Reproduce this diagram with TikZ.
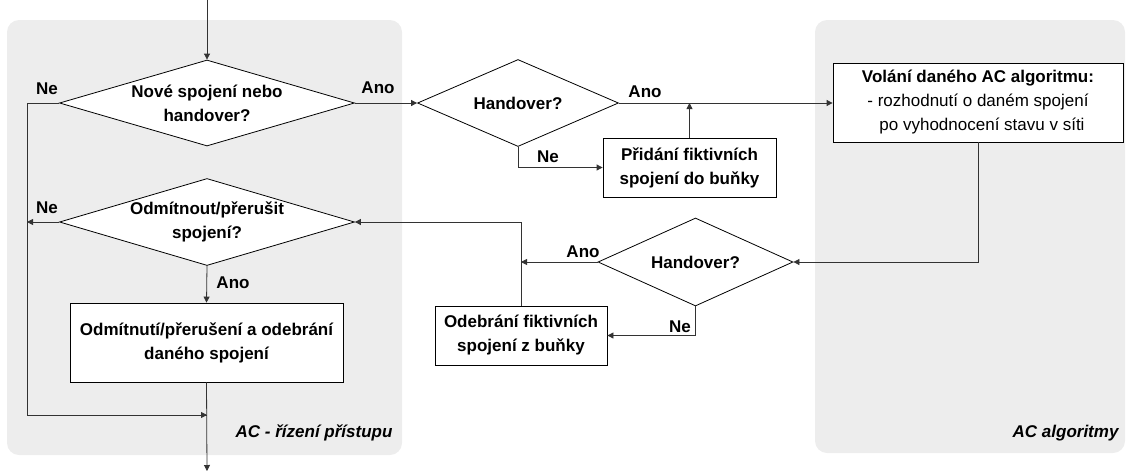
\documentclass[tikz,border=0pt]{standalone}
\usepackage{fontspec}
\setmainfont{Liberation Sans}
\usetikzlibrary{shapes.geometric, arrows.meta, positioning, calc}

\begin{document}
\begin{tikzpicture}[x=1pt, y=-1pt, font=\fontsize{17}{24}\selectfont\bfseries]

  \tikzset{
    panel/.style={rounded corners=12pt, fill=gray!14, draw=none},
    decision/.style={diamond, draw=black, line width=0.8pt, fill=white,
      inner sep=0pt, aspect=#1, align=center},
    stepbox/.style={rectangle, draw=black, line width=0.8pt, fill=white,
      inner sep=0pt, align=center},
    flow/.style={-{Triangle[length=6pt, width=6pt]}, line width=0.8pt, black!80},
    link/.style={line width=0.8pt, black!80},
    panellabel/.style={anchor=east, font=\fontsize{17}{24}\selectfont\bfseries\itshape}
  }

  \useasboundingbox (0,0) rectangle (1130,472);

  % grey background panels
  \fill[panel] (7,20) rectangle (402,455);
  \fill[panel] (815,20) rectangle (1125,453);
  \node[panellabel] (lblacc) at (396,433) {AC - řízení přístupu};
  \node[panellabel] (lblalg) at (1122,433) {AC algoritmy};

  % nodes
  \node[decision=3.43, minimum width=295pt, minimum height=86pt] (newconn) at (207,103)
    {Nové spojení nebo\\handover?};
  \node[decision=2.28, minimum width=201pt, minimum height=87pt] (hoadd) at (518,103)
    {Handover?};
  \node[stepbox, minimum width=173pt, minimum height=59pt] (addfict) at (689.5,167.5)
    {Přidání fiktivních\\spojení do buňky};
  \node[stepbox, minimum width=290pt, minimum height=79pt] (callalg) at (978,102.5)
    {Volání daného AC algoritmu:\\\mdseries - rozhodnutí o daném spojení\\\mdseries \hspace{8pt}po vyhodnocení stavu v síti};
  \node[decision=2.2, minimum width=195pt, minimum height=88pt] (horem) at (695.5,262)
    {Handover?};
  \node[stepbox, minimum width=172pt, minimum height=59pt] (remfict) at (521,335.5)
    {Odebrání fiktivních\\spojení z buňky};
  \node[decision=3.39, minimum width=295pt, minimum height=87pt] (reject) at (207,222)
    {Odmítnout/přerušit\\spojení?};
  \node[stepbox, minimum width=273pt, minimum height=79pt] (rejbox) at (206.5,342.5)
    {Odmítnutí/přerušení a odebrání\\daného spojení};

  \coordinate (entry) at (207,0);
  \coordinate (leftbus) at (27,103);
  \coordinate (merge) at (207,415);
  \coordinate (exit) at (207,471);

  % connectors
  \draw[flow] (entry) -- (newconn.north);
  \draw[link] (newconn.west) -- (leftbus) |- (merge);
  \draw[flow] (leftbus |- merge) -- (merge);
  \draw[flow] (newconn.east) -- (hoadd.west);
  \draw[flow] (hoadd.east) -- (hoadd.east -| callalg.west);
  \draw[flow] (hoadd.south) |- (addfict.west);
  \draw[flow] (addfict.north) -- (addfict.north |- hoadd.east);
  \draw[flow] (callalg.south) |- (horem.east);
  \draw[flow] (horem.west) -- (remfict.north |- horem.west);
  \draw[flow] (horem.south) |- (remfict.east);
  \draw[flow] (remfict.north) |- (reject.east);
  \draw[flow] (reject.west) -- (leftbus |- reject.west);
  \draw[flow] (reject.south) -- (rejbox.north);
  \draw[flow] (rejbox.south) -- (exit);

  % branch labels
  \node (ne1) at (47,89) {Ne};
  \node (ano1) at (378,88) {Ano};
  \node (ano2) at (645,92) {Ano};
  \node (ne2) at (548,157) {Ne};
  \node (ano3) at (583,252) {Ano};
  \node (ne3) at (680,327) {Ne};
  \node (ne4) at (47,208) {Ne};
  \node (ano4) at (233,283) {Ano};

\end{tikzpicture}
\end{document}
